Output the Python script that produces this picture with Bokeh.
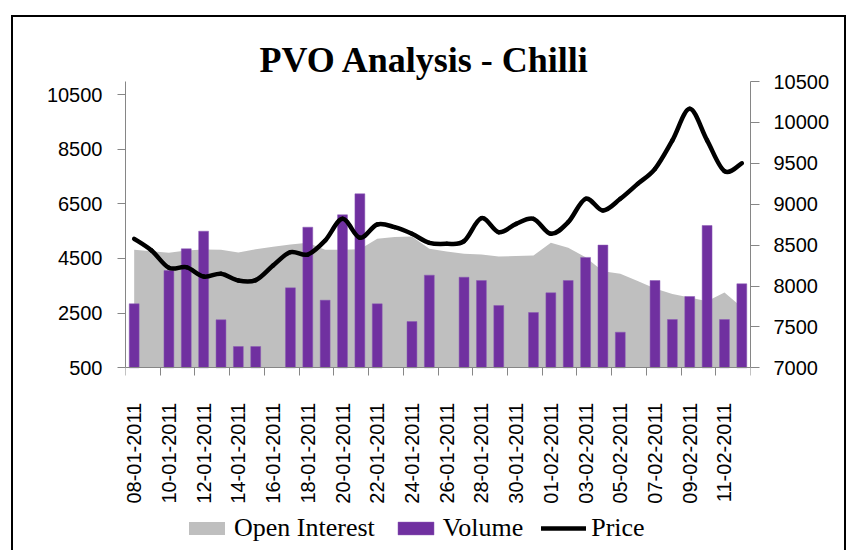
from bokeh.plotting import figure
from bokeh.models import (Range1d, LinearAxis, FixedTicker, Legend, LegendItem,
                          ColumnDataSource)
from bokeh.embed import file_html
from bokeh.resources import INLINE
import math

# ---------------- data ----------------
dates = ["08-01-2011", "09-01-2011", "10-01-2011", "11-01-2011", "12-01-2011", "13-01-2011",
         "14-01-2011", "15-01-2011", "16-01-2011", "17-01-2011", "18-01-2011", "19-01-2011",
         "20-01-2011", "21-01-2011", "22-01-2011", "23-01-2011", "24-01-2011", "25-01-2011",
         "26-01-2011", "27-01-2011", "28-01-2011", "29-01-2011", "30-01-2011", "31-01-2011",
         "01-02-2011", "02-02-2011", "03-02-2011", "04-02-2011", "05-02-2011", "06-02-2011",
         "07-02-2011", "08-02-2011", "09-02-2011", "10-02-2011", "11-02-2011", "12-02-2011"]

open_interest = [4818, 4766, 4708, 4792, 4828, 4818, 4719, 4840, 4930, 5011, 5080, 4818,
                 4818, 4840, 5220, 5285, 5300, 4860, 4755, 4671, 4646, 4573, 4590, 4609,
                 5074, 4891, 4547, 4035, 3939, 3680, 3400, 3200, 3072, 2937, 3255, 2717]

volume = [2842, 0, 4060, 4854, 5498, 2256, 1279, 1279, 0, 3427, 5645, 2974,
          6098, 6866, 2842, 0, 2194, 3890, 0, 3815, 3694, 2780, 0, 2523,
          3244, 3694, 4540, 4990, 1803, 0, 3694, 2267, 3109, 5707, 2267, 3573]

price = [8577, 8434, 8222, 8230, 8116, 8149, 8067, 8072, 8251, 8413, 8385, 8556,
         8821, 8589, 8752, 8719, 8638, 8528, 8516, 8548, 8829, 8658, 8760, 8821,
         8638, 8780, 9066, 8923, 9066, 9249, 9433, 9780, 10166, 9780, 9404, 9501]

left_ticks = [500, 2500, 4500, 6500, 8500, 10500]
right_ticks = [7000, 7500, 8000, 8500, 9000, 9500, 10000, 10500]

left_min, left_max = 500, 10976      # visible value span of the left axis
right_min, right_max = 7000, 10500   # visible value span of the right axis

# ---------------- figure ----------------
n = len(dates)
idx = list(range(n))

# the frame extends below the axes so the legend can sit under the date labels
p = figure(output_backend="svg", toolbar_location=None,
           x_range=Range1d(-0.5, n - 0.5), y_range=Range1d(-6112, left_max),
           min_border_left=125, min_border_right=96, min_border_top=81,
           min_border_bottom=0, frame_width=625, frame_height=467,
           background_fill_color="white", border_fill_color="white")
p.outline_line_color = None
p.grid.visible = False
p.stylesheets = [":host::after { content: ''; position: absolute; left: 11px; top: 15px;"
                 " width: 835px; height: 560px; border: 2px solid black;"
                 " box-sizing: border-box; pointer-events: none; z-index: 100; }"]

p.title.text = "PVO Analysis - Chilli"
p.title.text_font = "Liberation Serif"
p.title.text_font_style = "bold"
p.title.text_font_size = "36px"
p.title.text_color = "black"
p.title.align = "left"
p.title.offset = 134
p.title.standoff = 4

p.extra_y_ranges = {"price": Range1d(4791, right_max)}

axis_gray = "#868686"

# x axis, drawn at the bottom of the value span
xa = p.xaxis[0]
xa.axis_label = None
xa.fixed_location = left_min
xa.ticker = FixedTicker(ticks=idx[::2], minor_ticks=[i - 0.5 for i in range(0, n + 1, 2)])
xa.major_label_overrides = {i: dates[i] for i in idx[::2]}
xa.major_label_orientation = math.pi / 2
xa.major_tick_line_color = None
xa.major_tick_out = 8
xa.major_tick_in = 0
xa.minor_tick_line_color = axis_gray
xa.minor_tick_out = 8
xa.minor_tick_in = 0
xa.axis_line_color = axis_gray
xa.major_label_standoff = 27
xa.major_label_text_font = "Liberation Sans"
xa.major_label_text_font_size = "20px"
xa.major_label_text_color = "black"

# left y axis
ya = p.yaxis[0]
ya.axis_label = None
ya.bounds = (left_min, left_max)
ya.ticker = FixedTicker(ticks=left_ticks)
ya.axis_line_color = axis_gray
ya.major_tick_line_color = axis_gray
ya.major_tick_out = 8
ya.major_tick_in = 0
ya.minor_tick_line_color = None
ya.major_label_standoff = 15
ya.major_label_text_font = "Liberation Sans"
ya.major_label_text_font_size = "20px"
ya.major_label_text_color = "black"

# right y axis
ra = LinearAxis(y_range_name="price", ticker=FixedTicker(ticks=right_ticks),
                bounds=(right_min, right_max))
ra.axis_line_color = axis_gray
ra.major_tick_line_color = axis_gray
ra.major_tick_out = 9
ra.major_tick_in = 0
ra.minor_tick_line_color = None
ra.major_label_standoff = 14
ra.major_label_text_font = "Liberation Sans"
ra.major_label_text_font_size = "20px"
ra.major_label_text_color = "black"
p.add_layout(ra, "right")

# ---------------- glyphs ----------------
src = ColumnDataSource(dict(x=idx, oi=open_interest, base=[left_min] * n))
r_area = p.varea(x="x", y1="base", y2="oi", source=src, fill_color="#BFBFBF")

# only days that traded get a volume bar
bar_x = [i for i in idx if volume[i] > 0]
bar_top = [volume[i] for i in bar_x]
bar_src = ColumnDataSource(dict(x=bar_x, top=bar_top, base=[left_min] * len(bar_x)))
r_bar = p.vbar(x="x", top="top", bottom="base", width=0.57, source=bar_src,
               fill_color="#7030A0", line_color="#8a5ab5", line_width=0.5)

# smoothed price line (Catmull-Rom -> cubic Bezier through data points)
def pt(i):
    i = max(0, min(n - 1, i))
    return idx[i], price[i]

bx0, by0, bx1, by1, cx0, cy0, cx1, cy1 = [], [], [], [], [], [], [], []
for i in range(n - 1):
    xm, ym = pt(i - 1)
    xa0, ya0 = pt(i)
    xb, yb = pt(i + 1)
    xp, yp = pt(i + 2)
    bx0.append(xa0); by0.append(ya0)
    bx1.append(xb); by1.append(yb)
    cx0.append(xa0 + (xb - xm) / 6.0); cy0.append(ya0 + (yb - ym) / 6.0)
    cx1.append(xb - (xp - xa0) / 6.0); cy1.append(yb - (yp - ya0) / 6.0)

bsrc = ColumnDataSource(dict(x0=bx0, y0=by0, x1=bx1, y1=by1,
                             cx0=cx0, cy0=cy0, cx1=cx1, cy1=cy1))
r_line = p.bezier(x0="x0", y0="y0", x1="x1", y1="y1", cx0="cx0", cy0="cy0",
                  cx1="cx1", cy1="cy1", source=bsrc, y_range_name="price",
                  line_color="black", line_width=4.5, line_cap="round")

# ---------------- legend ----------------
legend = Legend(items=[LegendItem(label="Open Interest", renderers=[r_area]),
                       LegendItem(label="Volume", renderers=[r_bar]),
                       LegendItem(label="Price", renderers=[r_line])],
                orientation="horizontal", location=(59, 5),
                label_text_font="Liberation Serif", label_text_font_size="26px",
                label_text_color="black",
                glyph_width=45, glyph_height=16, label_standoff=5, spacing=18,
                border_line_color=None, background_fill_alpha=0,
                padding=2, margin=0)
p.add_layout(legend, "center")

open("out.html", "w").write(file_html(p, INLINE))
